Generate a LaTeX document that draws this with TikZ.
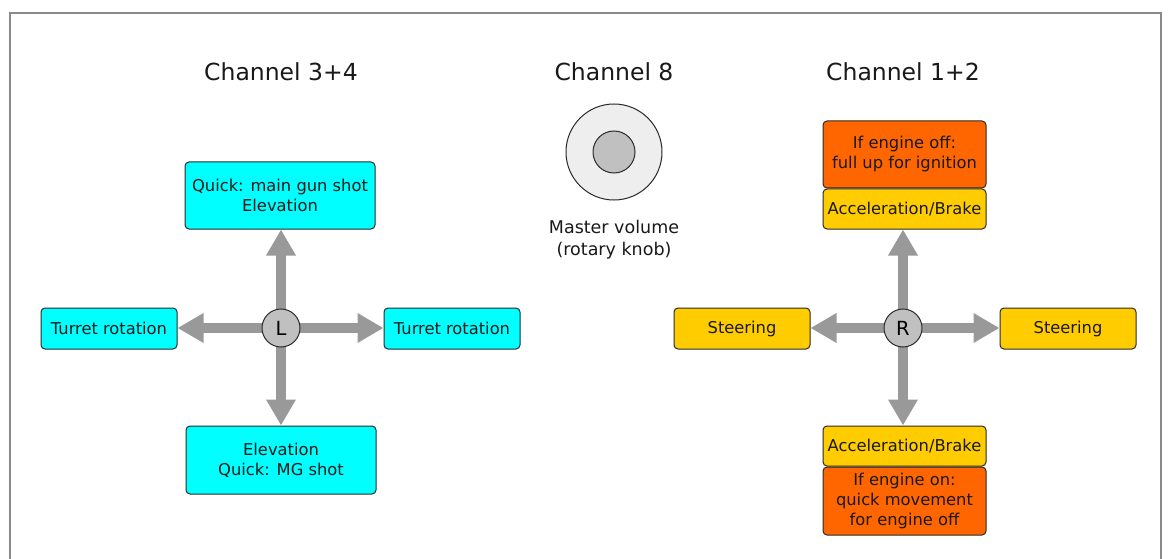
\documentclass[tikz,border=0pt]{standalone}
\usepackage{fontspec}
\setmainfont{DejaVu Sans}
\usetikzlibrary{arrows.meta}
\pgfdeclarelayer{background}
\pgfsetlayers{background,main}
\definecolor{cyanbox}{HTML}{00FFFF}
\definecolor{yellowbox}{HTML}{FFCC00}
\definecolor{orangebox}{HTML}{FF6600}
\definecolor{arrowgray}{HTML}{999999}
\definecolor{framegray}{HTML}{8A8A8A}
\definecolor{knobouter}{HTML}{EEEEEE}
\definecolor{knobinner}{HTML}{C0C0C0}
\definecolor{edgegray}{HTML}{2A2A2A}
\begin{document}
\begin{tikzpicture}[x=1pt,y=-1pt,
  box/.style={draw=edgegray, line width=1pt, rounded corners=4pt, inner sep=0pt,
    align=center, font=\fontsize{16.3}{20}\selectfont, text=black!90},
  cyanstyle/.style={box, fill=cyanbox},
  yellowstyle/.style={box, fill=yellowbox},
  orangestyle/.style={box, fill=orangebox},
  stick/.style={circle, draw=edgegray, line width=1pt, fill=knobinner, minimum size=38pt,
    inner sep=0pt, font=\fontsize{19.5}{22}\selectfont},
  title/.style={font=\fontsize{23.5}{27}\selectfont, text=black!90},
  bigarrow/.style={draw=arrowgray, line width=10pt, -{Triangle[length=26pt,width=28pt]}}
]
\useasboundingbox (0,0) rectangle (1168,559);
\draw[framegray, line width=2pt] (10,600) -- (10,13) -- (1161,13) -- (1161,600);

% titles
\node[title] (t34) at (281,72) {Channel 3+4};
\node[title] (t8) at (614,72) {Channel 8};
\node[title] (t12) at (903,72) {Channel 1+2};

% left cluster
\node[stick] (L) at (281,328) {L};
\node[cyanstyle, minimum width=190pt, minimum height=67pt] (ltop) at (280,195.5) {Quick: main gun shot\\Elevation};
\node[cyanstyle, minimum width=190pt, minimum height=68pt] (lbot) at (281,460) {Elevation\\Quick: MG shot};
\node[cyanstyle, minimum width=136pt, minimum height=41pt] (lleft) at (109,328.5) {Turret rotation};
\node[cyanstyle, minimum width=136pt, minimum height=41pt] (lright) at (452,328.5) {Turret rotation};

% knob
\node[circle, draw=edgegray, line width=1pt, fill=knobouter, minimum size=96pt, inner sep=0pt] (knob) at (614,152) {};
\node[circle, draw=edgegray, line width=1pt, fill=knobinner, minimum size=42pt, inner sep=0pt] (knobin) at (knob.center) {};
\node[align=center, font=\fontsize{17.5}{22}\selectfont, text=black!90] (knoblabel) at (614,240) {Master volume\\(rotary knob)};

% right cluster
\node[stick] (R) at (903,328) {R};
\node[orangestyle, minimum width=163pt, minimum height=67pt] (rtopo) at (904.5,154.5) {If engine off:\\full up for ignition};
\node[yellowstyle, minimum width=163pt, minimum height=40pt] (rtopy) at (904.5,209) {Acceleration/Brake};
\node[yellowstyle, minimum width=163pt, minimum height=40pt] (rboty) at (904.5,446) {Acceleration/Brake};
\node[orangestyle, minimum width=163pt, minimum height=68pt] (rboto) at (904.5,501) {If engine on:\\quick movement\\for engine off};
\node[yellowstyle, minimum width=136pt, minimum height=41pt, text depth=3pt] (rleft) at (742,328.5) {Steering};
\node[yellowstyle, minimum width=136pt, minimum height=41pt, text depth=3pt] (rright) at (1068,328.5) {Steering};

\begin{pgfonlayer}{background}
\fill[white] (0,0) rectangle (1168,559);
\draw[bigarrow] (L.center) -- (L.center |- ltop.south);
\draw[bigarrow] (L.center) -- (L.center |- lbot.north);
\draw[bigarrow] (L.center) -- (lleft.east |- L.center);
\draw[bigarrow] (L.center) -- (lright.west |- L.center);
\draw[bigarrow] (R.center) -- (R.center |- rtopy.south);
\draw[bigarrow] (R.center) -- (R.center |- rboty.north);
\draw[bigarrow] (R.center) -- (rleft.east |- R.center);
\draw[bigarrow] (R.center) -- (rright.west |- R.center);
\end{pgfonlayer}
\end{tikzpicture}
\end{document}
